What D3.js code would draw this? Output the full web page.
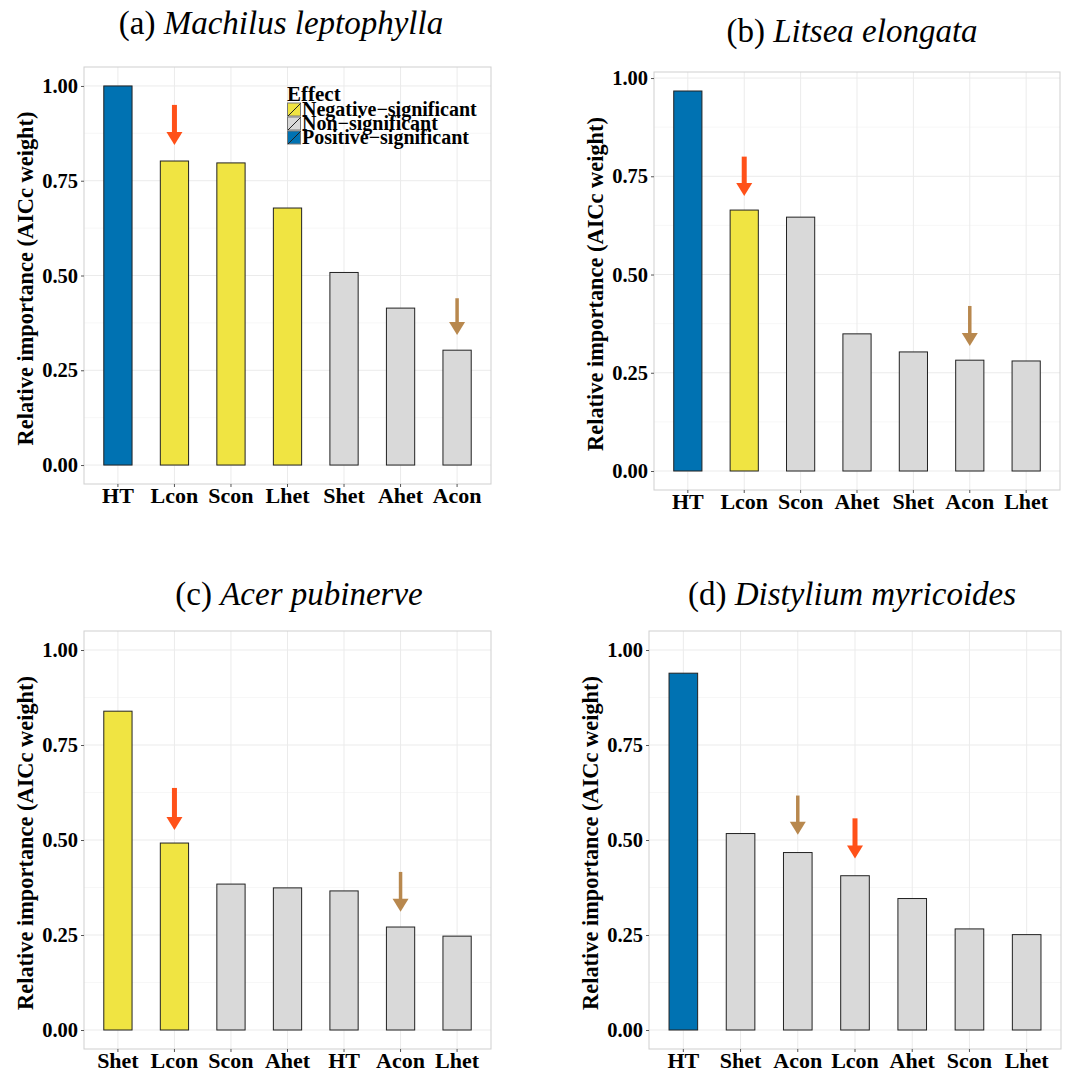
<!DOCTYPE html>
<html>
<head>
<meta charset="utf-8">
<script src="https://cdn.jsdelivr.net/npm/d3@7"></script>
<style>
  body { margin: 0; background: #fff; }
  svg { display: block; font-family: "Liberation Serif", "Times New Roman", serif; }
</style>
</head>
<body>
<svg id="chart" width="1070" height="1074"></svg>
<script>
// data
const catsA = ['HT', 'Lcon', 'Scon', 'Lhet', 'Shet', 'Ahet', 'Acon'];
const valsA = [1.000, 0.802, 0.797, 0.678, 0.508, 0.414, 0.303];
const effA = ['pos', 'neg', 'neg', 'neg', 'non', 'non', 'non'];

const catsB = ['HT', 'Lcon', 'Scon', 'Ahet', 'Shet', 'Acon', 'Lhet'];
const valsB = [0.967, 0.664, 0.646, 0.349, 0.303, 0.282, 0.280];
const effB = ['pos', 'neg', 'non', 'non', 'non', 'non', 'non'];

const catsC = ['Shet', 'Lcon', 'Scon', 'Ahet', 'HT', 'Acon', 'Lhet'];
const valsC = [0.839, 0.492, 0.384, 0.374, 0.366, 0.271, 0.247];
const effC = ['neg', 'neg', 'non', 'non', 'non', 'non', 'non'];

const catsD = ['HT', 'Shet', 'Acon', 'Lcon', 'Ahet', 'Scon', 'Lhet'];
const valsD = [0.939, 0.517, 0.467, 0.406, 0.346, 0.266, 0.251];
const effD = ['pos', 'non', 'non', 'non', 'non', 'non', 'non'];

const yTicks = [0, 0.25, 0.5, 0.75, 1.0];

// arrows: [panel, category, tail value, tip value, kind]
const arrowsList = [
  ['a', 'Lcon', 0.950, 0.844, 'red'],
  ['a', 'Acon', 0.440, 0.343, 'tan'],
  ['b', 'Lcon', 0.800, 0.700, 'red'],
  ['b', 'Acon', 0.420, 0.318, 'tan'],
  ['c', 'Lcon', 0.637, 0.526, 'red'],
  ['c', 'Acon', 0.416, 0.311, 'tan'],
  ['d', 'Acon', 0.617, 0.514, 'tan'],
  ['d', 'Lcon', 0.557, 0.451, 'red']
];

const legendKeys = ['neg', 'non', 'pos'];
const legendLabels = ['Negative\u2212significant', 'Non\u2212significant', 'Positive\u2212significant'];

const fillColor = {pos: '#0072B2', neg: '#F0E442', non: '#D9D9D9'};
const arrowColor = {red: '#FF5119', tan: '#B8884E'};
const arrowShaft = {red: 5, tan: 3.5};

const panels = [
  {id: 'a', tag: '(a) ', name: 'Machilus leptophylla', cats: catsA, vals: valsA, eff: effA,
   left: 84, right: 491, top: 67, bottom: 484, ymax: null, tx: 281, ty: 34},
  {id: 'b', tag: '(b) ', name: 'Litsea elongata', cats: catsB, vals: valsB, eff: effB,
   left: 654, right: 1060, top: 72, bottom: 490, ymax: null, tx: 852, ty: 42},
  {id: 'c', tag: '(c) ', name: 'Acer pubinerve', cats: catsC, vals: valsC, eff: effC,
   left: 84, right: 491, top: 631, bottom: 1049, ymax: 1, tx: 299, ty: 605},
  {id: 'd', tag: '(d) ', name: 'Distylium myricoides', cats: catsD, vals: valsD, eff: effD,
   left: 649, right: 1061, top: 631, bottom: 1049, ymax: 1, tx: 852, ty: 605}
];

const svg = d3.select('#chart');

panels.forEach(p => {
  const g = svg.append('g');

  // ggplot-like 5% expansion of the y range
  const hi = p.ymax !== null ? p.ymax : d3.max(p.vals);
  const pad = hi * 0.05;
  const y = d3.scaleLinear().domain([-pad, hi + pad]).range([p.bottom, p.top]);
  const x = d3.scaleBand().domain(p.cats).range([p.left, p.right])
    .paddingInner(0.5).paddingOuter(0.35);

  // minor + major grid
  const minor = d3.range(0.125, hi + pad, 0.25);
  g.selectAll('.minor').data(minor).enter().append('line')
    .attr('x1', p.left).attr('x2', p.right)
    .attr('y1', d => y(d)).attr('y2', d => y(d))
    .attr('stroke', '#F2F2F2').attr('stroke-width', 0.6);
  g.selectAll('.hgrid').data(yTicks.filter(t => t <= hi + pad)).enter().append('line')
    .attr('x1', p.left).attr('x2', p.right)
    .attr('y1', d => y(d)).attr('y2', d => y(d))
    .attr('stroke', '#EBEBEB').attr('stroke-width', 1);
  g.selectAll('.vgrid').data(p.cats).enter().append('line')
    .attr('x1', d => x(d) + x.bandwidth() / 2).attr('x2', d => x(d) + x.bandwidth() / 2)
    .attr('y1', p.top).attr('y2', p.bottom)
    .attr('stroke', '#EBEBEB').attr('stroke-width', 1);

  // bars
  g.selectAll('.bar').data(p.cats).enter().append('rect')
    .attr('x', d => x(d))
    .attr('width', x.bandwidth())
    .attr('y', (d, i) => y(p.vals[i]))
    .attr('height', (d, i) => y(0) - y(p.vals[i]))
    .attr('fill', (d, i) => fillColor[p.eff[i]])
    .attr('stroke', '#222').attr('stroke-width', 1);

  // panel border
  g.append('rect')
    .attr('x', p.left).attr('y', p.top)
    .attr('width', p.right - p.left).attr('height', p.bottom - p.top)
    .attr('fill', 'none').attr('stroke', '#CFCFCF').attr('stroke-width', 1);

  // axes
  const yAxis = g.append('g')
    .attr('transform', 'translate(' + p.left + ',0)')
    .call(d3.axisLeft(y).tickValues(yTicks.filter(t => t <= hi + pad))
      .tickFormat(d3.format('.2f')).tickSize(3).tickPadding(3));
  const xAxis = g.append('g')
    .attr('transform', 'translate(0,' + p.bottom + ')')
    .call(d3.axisBottom(x).tickSize(3).tickPadding(1));
  [yAxis, xAxis].forEach(ax => {
    ax.select('.domain').remove();
    ax.selectAll('.tick line').attr('stroke', '#555');
    ax.selectAll('text').attr('fill', '#000').attr('font-weight', 'bold')
      .style('font-family', '"Liberation Serif", serif');
  });
  yAxis.selectAll('text').attr('font-size', 20.5);
  xAxis.selectAll('text').attr('font-size', 22).attr('dy', '0.7em');

  // y axis title
  g.append('text')
    .attr('transform', 'translate(' + (p.left - 59) + ',' + ((p.top + p.bottom) / 2 + 3) + ') rotate(-90)')
    .attr('text-anchor', 'middle')
    .attr('dy', '0.35em')
    .attr('font-size', 22.4).attr('font-weight', 'bold')
    .text('Relative importance (AICc weight)');

  // panel title
  const t = g.append('text')
    .attr('x', p.tx).attr('y', p.ty)
    .attr('text-anchor', 'middle')
    .attr('font-size', 33);
  t.append('tspan').text(p.tag);
  t.append('tspan').attr('font-style', 'italic').text(p.name);

  // arrows
  arrowsList.filter(a => a[0] === p.id).forEach(a => {
    const cx = x(a[1]) + x.bandwidth() / 2;
    const y0 = y(a[2]);
    const y1 = y(a[3]);
    const head = 13;
    const hw = 8;
    const col = arrowColor[a[4]];
    g.append('line')
      .attr('x1', cx).attr('x2', cx)
      .attr('y1', y0).attr('y2', y1 - head + 2)
      .attr('stroke', col).attr('stroke-width', arrowShaft[a[4]]);
    g.append('path')
      .attr('d', 'M' + (cx - hw) + ',' + (y1 - head) + 'L' + (cx + hw) + ',' + (y1 - head) + 'L' + cx + ',' + y1 + 'Z')
      .attr('fill', col);
  });
});

// legend inside panel (a)
const lg = svg.append('g').attr('transform', 'translate(287,86)');
lg.append('text').attr('x', 0).attr('y', 15)
  .attr('font-size', 21).attr('font-weight', 'bold').text('Effect');
legendKeys.forEach((k, i) => {
  const ky = 17 + i * 14;
  lg.append('rect').attr('x', 0.5).attr('y', ky).attr('width', 13).attr('height', 13)
    .attr('fill', fillColor[k]).attr('stroke', '#777').attr('stroke-width', 1);
  lg.append('line').attr('x1', 1).attr('y1', ky + 13).attr('x2', 13.5).attr('y2', ky + 0.5)
    .attr('stroke', '#222').attr('stroke-width', 1);
  lg.append('text').attr('x', 15).attr('y', ky + 13)
    .attr('font-size', 20).attr('font-weight', 'bold').text(legendLabels[i]);
});
</script>
</body>
</html>
